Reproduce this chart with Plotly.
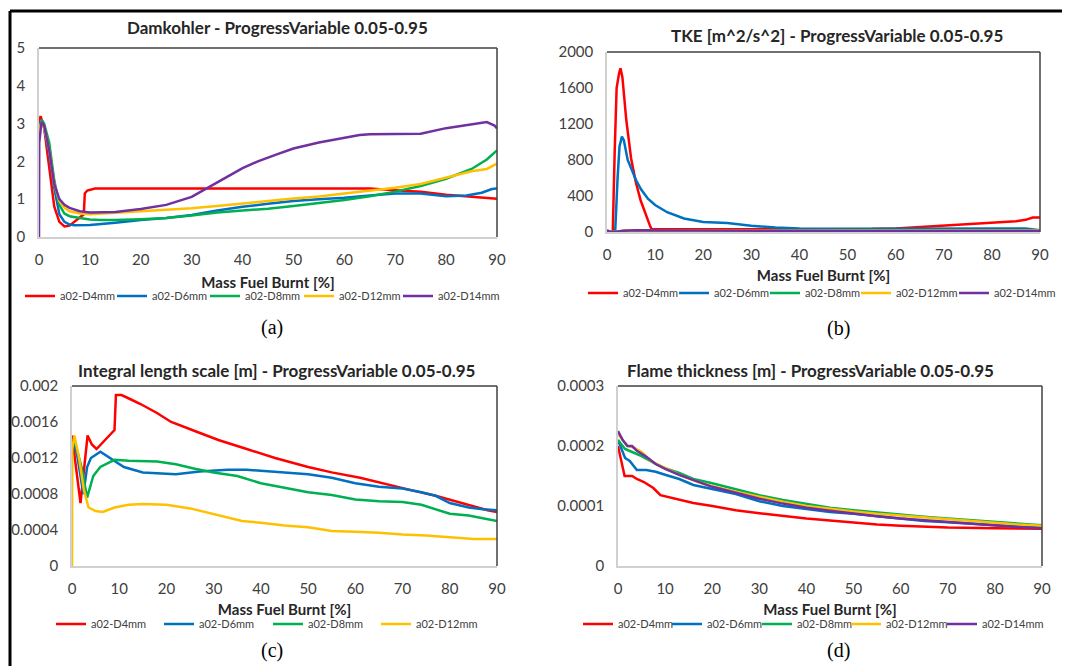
import plotly.graph_objects as go

PAGE_W, PAGE_H = 1070, 666
OFF = 8  # default body margin of the page
W, H = PAGE_W - OFF, PAGE_H - OFF
SERIES = ["a02-D4mm", "a02-D6mm", "a02-D8mm", "a02-D12mm", "a02-D14mm"]
COLORS = ["#ff0000", "#0070c0", "#00b050", "#ffc000", "#7030a0"]

# ---------- (a) Damkohler ----------
a_d4_x = [0, 0.3, 1, 2, 3, 4, 5, 6, 7, 8, 8.8, 9.0, 9.5, 11, 15, 20, 30, 40, 50, 60, 65, 70, 75, 80, 85, 90]
a_d4_y = [2.9, 3.2, 2.9, 1.8, 0.8, 0.4, 0.28, 0.3, 0.4, 0.52, 0.6, 1.15, 1.23, 1.28, 1.28, 1.27, 1.27, 1.28, 1.29, 1.29, 1.28, 1.24, 1.2, 1.12, 1.06, 1.01]
a_d6_x = [0, 0.5, 1, 2, 3, 4, 5, 6, 7, 8, 10, 15, 20, 25, 30, 35, 40, 45, 50, 55, 60, 65, 70, 75, 80, 84, 87, 89, 90]
a_d6_y = [2.9, 3.1, 2.9, 2.2, 1.3, 0.6, 0.4, 0.33, 0.31, 0.31, 0.32, 0.38, 0.45, 0.5, 0.58, 0.7, 0.8, 0.88, 0.95, 1.0, 1.04, 1.1, 1.15, 1.15, 1.08, 1.1, 1.17, 1.27, 1.28]
a_d8_x = [0, 0.5, 1, 2, 3, 4, 5, 6, 8, 10, 12, 15, 20, 25, 30, 35, 40, 45, 50, 55, 60, 65, 70, 75, 80, 85, 88, 90]
a_d8_y = [2.8, 3.1, 3.0, 2.5, 1.5, 0.85, 0.62, 0.55, 0.5, 0.46, 0.45, 0.45, 0.47, 0.5, 0.57, 0.65, 0.7, 0.75, 0.82, 0.9, 0.98, 1.08, 1.2, 1.35, 1.54, 1.8, 2.05, 2.29]
a_d12_x = [0, 0.5, 1, 2, 3, 4, 5, 6, 8, 10, 15, 20, 25, 30, 35, 40, 45, 50, 55, 60, 65, 70, 75, 80, 85, 88, 90]
a_d12_y = [2.8, 3.05, 2.9, 2.3, 1.4, 0.95, 0.78, 0.68, 0.62, 0.6, 0.64, 0.68, 0.72, 0.76, 0.82, 0.88, 0.95, 1.02, 1.07, 1.15, 1.22, 1.3, 1.4, 1.58, 1.74, 1.8, 1.94]
a_d14_x = [0, 0.05, 0.5, 1, 2, 3, 4, 5, 6, 8, 10, 15, 20, 25, 30, 33, 36, 40, 43, 47, 50, 55, 60, 63, 65, 70, 75, 80, 85, 88, 89.5, 90]
a_d14_y = [0, 2.5, 3.05, 2.95, 2.3, 1.4, 1.0, 0.85, 0.77, 0.68, 0.65, 0.66, 0.74, 0.85, 1.06, 1.28, 1.52, 1.82, 2.0, 2.2, 2.34, 2.5, 2.62, 2.7, 2.72, 2.72, 2.73, 2.88, 2.98, 3.04, 2.95, 2.87]

# ---------- (b) TKE ----------
b_d4_x = [0, 1.2, 1.6, 2.0, 2.5, 2.8, 3.2, 4, 5, 6, 7, 8, 8.8, 9.0, 9.3, 15, 20, 30, 40, 50, 55, 60, 65, 70, 75, 80, 85, 87, 88.5, 90]
b_d4_y = [0, 0, 900, 1600, 1760, 1820, 1720, 1250, 820, 550, 350, 200, 100, 60, 30, 30, 30, 30, 28, 28, 32, 40, 55, 75, 85, 100, 120, 135, 160, 160]
b_d6_x = [0, 1.7, 2.2, 2.6, 3.1, 3.5, 4.3, 5, 6, 7, 8.5, 10, 12.5, 16, 20, 25, 30, 35, 40, 50, 60, 70, 80, 87, 90]
b_d6_y = [0, 0, 600, 950, 1060, 1020, 800, 700, 580, 480, 370, 300, 220, 150, 110, 100, 70, 50, 40, 35, 35, 35, 40, 40, 20]
b_d8_x = [0, 1.5, 3.5, 6, 20, 50, 80, 90]
b_d8_y = [5, 0, 15, 20, 18, 18, 20, 15]
b_d12_x = [0, 1.5, 3.5, 6, 20, 50, 80, 90]
b_d12_y = [5, 0, 15, 20, 18, 18, 22, 18]
b_d14_x = [0, 0.5, 1.5, 3.5, 6, 20, 50, 80, 90]
b_d14_y = [20, 5, 0, 15, 20, 15, 12, 10, 10]

# ---------- (c) Integral length scale ----------
c_d4_x = [0, 0.8, 1.8, 2.6, 3.3, 4.2, 5.2, 7, 8.5, 9.0, 9.3, 10.5, 12.5, 14.5, 18, 21, 26, 31, 37, 43, 50, 55, 61, 67, 72, 77, 81, 85, 88, 90]
c_d4_y = [0.00145, 0.0011, 0.0007, 0.0011, 0.00145, 0.00135, 0.0013, 0.0014, 0.00148, 0.00151, 0.0019, 0.0019, 0.00185, 0.0018, 0.0017, 0.0016, 0.0015, 0.0014, 0.0013, 0.0012, 0.0011, 0.00104, 0.00098, 0.0009, 0.00084, 0.00078, 0.00072, 0.00066, 0.00062, 0.0006]
c_d6_x = [0, 0.3, 1.2, 2.4, 3.2, 4, 6, 8, 11, 15, 20, 22, 27, 33, 37, 43, 50, 55, 60, 65, 70, 74, 77, 80, 84, 87, 90]
c_d6_y = [0.0013, 0.0014, 0.0012, 0.0008, 0.0011, 0.0012, 0.00127, 0.0012, 0.0011, 0.00104, 0.00103, 0.00102, 0.00105, 0.00107, 0.00107, 0.00105, 0.00102, 0.00098, 0.00092, 0.00088, 0.00086, 0.00082, 0.00078, 0.0007, 0.00065, 0.00063, 0.00062]
c_d8_x = [0, 0.5, 2, 3.2, 4.5, 6, 9, 12, 18, 22, 26, 30, 35, 40, 45, 50, 55, 60, 65, 70, 74, 77, 80, 84, 87, 90]
c_d8_y = [0.0013, 0.0014, 0.0011, 0.00076, 0.001, 0.0011, 0.00118, 0.00117, 0.00116, 0.00113, 0.00108, 0.00104, 0.001, 0.00092, 0.00087, 0.00082, 0.00079, 0.00074, 0.00072, 0.00071, 0.00068, 0.00063, 0.00058, 0.00056, 0.00053, 0.0005]
c_d12_x = [0, 0.05, 0.5, 1.5, 2.5, 3.5, 5, 6.5, 9, 12, 15, 20, 25, 28, 32, 36, 40, 45, 50, 55, 60, 65, 70, 75, 80, 85, 90]
c_d12_y = [0, 0.0013, 0.00145, 0.0012, 0.00085, 0.00065, 0.00061, 0.0006, 0.00065, 0.00068, 0.00069, 0.00068, 0.00064, 0.0006, 0.00055, 0.0005, 0.00048, 0.00045, 0.00043, 0.00039, 0.00038, 0.00037, 0.00035, 0.00034, 0.00032, 0.0003, 0.0003]

# ---------- (d) Flame thickness ----------
d_d4_x = [0, 1.4, 3, 4, 5.5, 7.5, 9, 12, 16, 20, 25, 30, 35, 40, 45, 50, 55, 60, 65, 70, 80, 90]
d_d4_y = [0.0002, 0.00015, 0.00015, 0.000145, 0.00014, 0.00013, 0.000118, 0.000112, 0.000105, 0.0001, 0.000093, 0.000088, 0.000083, 0.000079, 0.000076, 0.000072, 0.000069, 0.000067, 0.000065, 0.000064, 0.000063, 0.000062]
d_d6_x = [0, 1.5, 2.5, 4, 6, 8, 10, 13, 16, 20, 25, 30, 35, 40, 45, 50, 55, 60, 65, 70, 75, 80, 85, 90]
d_d6_y = [0.00021, 0.00018, 0.000175, 0.00016, 0.00016, 0.000157, 0.000152, 0.000145, 0.000135, 0.000128, 0.00012, 0.000108, 0.0001, 0.000095, 0.00009, 0.000087, 0.000083, 0.000079, 0.000075, 0.000073, 0.00007, 0.000068, 0.000066, 0.000065]
d_d8_x = [0, 1.5, 3, 5, 8, 10, 13, 16, 20, 25, 30, 35, 40, 45, 50, 55, 60, 65, 70, 75, 80, 85, 90]
d_d8_y = [0.00021, 0.000195, 0.00019, 0.000183, 0.00017, 0.000163, 0.000155, 0.000145, 0.000138, 0.000128, 0.000118, 0.00011, 0.000103, 0.000097, 0.000093, 0.000089, 0.000086, 0.000082, 0.000079, 0.000076, 0.000073, 0.00007, 0.000068]
d_d12_x = [0, 2, 3.5, 5, 7, 10, 13, 17, 20, 25, 30, 35, 40, 45, 50, 55, 60, 65, 70, 75, 80, 85, 90]
d_d12_y = [0.00022, 0.0002, 0.000197, 0.00019, 0.000175, 0.000163, 0.000152, 0.00014, 0.000133, 0.000124, 0.000115, 0.000107, 0.0001, 0.000095, 0.000091, 0.000087, 0.000084, 0.00008, 0.000077, 0.000074, 0.000071, 0.000069, 0.000067]
d_d14_x = [0, 1, 2, 3, 4, 6, 8, 10, 13, 17, 20, 25, 30, 35, 40, 45, 50, 55, 60, 65, 70, 75, 80, 85, 90]
d_d14_y = [0.000225, 0.00021, 0.0002, 0.0002, 0.000192, 0.000182, 0.00017, 0.000162, 0.000152, 0.00014, 0.000132, 0.000122, 0.000112, 0.000104, 0.000097, 0.000092, 0.000087, 0.000083, 0.000079, 0.000076, 0.000073, 0.00007, 0.000067, 0.000065, 0.000063]

x_ticks = [0, 10, 20, 30, 40, 50, 60, 70, 80, 90]
a_yticks = [0, 1, 2, 3, 4, 5]
b_yticks = [0, 400, 800, 1200, 1600, 2000]
c_yticks = [0, 0.0004, 0.0008, 0.0012, 0.0016, 0.002]
c_ylabels = ["0", "0.0004", "0.0008", "0.0012", "0.0016", "0.002"]
d_yticks = [0, 0.0001, 0.0002, 0.0003]
d_ylabels = ["0", "0.0001", "0.0002", "0.0003"]

titles = ["Damkohler - ProgressVariable 0.05-0.95",
          "TKE [m^2/s^2] - ProgressVariable 0.05-0.95",
          "Integral length scale [m] - ProgressVariable 0.05-0.95",
          "Flame thickness [m] - ProgressVariable 0.05-0.95"]
panel_labels = ["(a)", "(b)", "(c)", "(d)"]
x_title = "Mass Fuel Burnt [%]"

panels = [
    [(a_d4_x, a_d4_y), (a_d6_x, a_d6_y), (a_d8_x, a_d8_y), (a_d12_x, a_d12_y), (a_d14_x, a_d14_y)],
    [(b_d4_x, b_d4_y), (b_d6_x, b_d6_y), (b_d8_x, b_d8_y), (b_d12_x, b_d12_y), (b_d14_x, b_d14_y)],
    [(c_d4_x, c_d4_y), (c_d6_x, c_d6_y), (c_d8_x, c_d8_y), (c_d12_x, c_d12_y)],
    [(d_d4_x, d_d4_y), (d_d6_x, d_d6_y), (d_d8_x, d_d8_y), (d_d12_x, d_d12_y), (d_d14_x, d_d14_y)],
]

# page-pixel layout: plot boxes (left, right, top, bottom)
boxes = [(39, 497, 48, 237), (607, 1040, 52, 232), (72, 497, 386, 566), (618, 1042, 386, 566)]
yranges = [[0, 5], [0, 2000], [0, 0.002], [0, 0.0003]]
yticks = [(a_yticks, [str(v) for v in a_yticks]), (b_yticks, [str(v) for v in b_yticks]),
          (c_yticks, c_ylabels), (d_yticks, d_ylabels)]
# legend item line starts (page px) and legend row y for each panel
legend_items_x = [[27, 119, 212, 306, 405], [590, 681, 772, 863, 961],
                  [58, 166, 275, 383], [585, 674, 764, 853, 949]]
legend_row_y = [296, 293, 624, 624]
title_pos = [(277, 27), (837, 35), (276, 370), (810, 370)]
label_pos = [(272, 327), (838, 328), (272, 650), (838, 650)]
xtitle_standoff = [11, 9, 9, 9]

def px(x):
    return (x - OFF) / W

def py(y):
    return 1 - (y - OFF) / H

TXT = "#404040"
FONT = "Lato"

fig = go.Figure()
layout = dict(width=W, height=H, margin=dict(l=0, r=0, t=0, b=0, autoexpand=False),
              paper_bgcolor="white", plot_bgcolor="white", showlegend=True,
              annotations=[], shapes=[])

leg_count = 0
for i, series in enumerate(panels):
    n = i + 1
    xa = "x" if n == 1 else f"x{n}"
    ya = "y" if n == 1 else f"y{n}"
    for k, (xs, ys) in enumerate(series):
        leg_count += 1
        leg = "legend" if leg_count == 1 else f"legend{leg_count}"
        fig.add_trace(go.Scatter(x=xs, y=ys, mode="lines", name=SERIES[k],
                                 line=dict(color=COLORS[k], width=2.5),
                                 xaxis=xa, yaxis=ya, legend=leg))
        layout[leg] = dict(orientation="h", x=px(legend_items_x[i][k] - 7), y=py(legend_row_y[i]),
                           xanchor="left", yanchor="middle",
                           font=dict(family=FONT, size=11, color=TXT), bgcolor="rgba(0,0,0,0)",
                           itemwidth=30)
    l, r, t, b = boxes[i]
    xkey = "xaxis" if n == 1 else f"xaxis{n}"
    ykey = "yaxis" if n == 1 else f"yaxis{n}"
    layout[xkey] = dict(domain=[px(l), px(r)], anchor=ya, range=[0, 90],
                        tickvals=x_ticks, ticks="", showgrid=False, zeroline=False,
                        showline=True, linecolor="#d0d0d0", linewidth=1.5,
                        ticklabelstandoff=8,
                        tickfont=dict(family=FONT, size=15, color=TXT),
                        title=dict(text=x_title, standoff=xtitle_standoff[i],
                                   font=dict(family=FONT, size=15, color="#262626", weight="bold")))
    tv, tt = yticks[i]
    layout[ykey] = dict(domain=[py(b), py(t)], anchor=xa, range=yranges[i],
                        tickvals=tv, ticktext=tt, ticks="", showgrid=False, zeroline=False,
                        showline=True, linecolor="#d0d0d0", linewidth=1.5,
                        ticklabelstandoff=9,
                        tickfont=dict(family=FONT, size=15, color=TXT))
    # dark top and right frame lines of the plot area
    layout["shapes"].append(dict(type="line", xref="paper", yref="paper",
                                 x0=px(l), x1=px(r), y0=py(t), y1=py(t),
                                 line=dict(color="#404040", width=1.5)))
    layout["shapes"].append(dict(type="line", xref="paper", yref="paper",
                                 x0=px(r), x1=px(r), y0=py(t), y1=py(b),
                                 line=dict(color="#404040", width=1.5)))
    tx, ty = title_pos[i]
    layout["annotations"].append(dict(text=titles[i], xref="paper", yref="paper",
                                      x=px(tx), y=py(ty),
                                      xanchor="center", yanchor="middle", showarrow=False,
                                      font=dict(family=FONT, size=17, color="#262626", weight="bold")))
    lbx, lby = label_pos[i]
    layout["annotations"].append(dict(text=panel_labels[i], xref="paper", yref="paper",
                                      x=px(lbx), y=py(lby), xanchor="center", yanchor="middle",
                                      showarrow=False,
                                      font=dict(family="Liberation Serif", size=20, color="black")))

# outer frame (top and left edges)
layout["shapes"].append(dict(type="line", xref="paper", yref="paper", x0=px(10), x1=1.0,
                             y0=py(11), y1=py(11), line=dict(color="black", width=3)))
layout["shapes"].append(dict(type="line", xref="paper", yref="paper", x0=px(10), x1=px(10),
                             y0=0, y1=py(11), line=dict(color="black", width=3)))

fig.update_layout(**layout)
fig.write_html("out.html")
